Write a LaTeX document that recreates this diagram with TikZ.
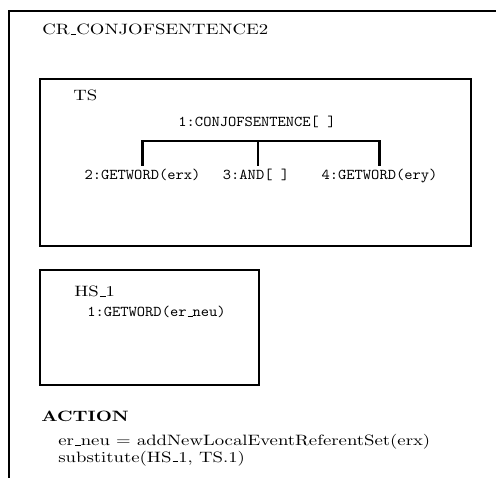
\documentclass[tikz,border=0pt]{standalone}
\usepackage[OT1]{fontenc}
\renewcommand{\rmdefault}{cmr}
\renewcommand{\ttdefault}{cmtt}
\usepackage{graphicx}
\usetikzlibrary{positioning}
\newcommand{\wrm}[1]{\scalebox{1.25}[1]{#1}}
\newcommand{\wtt}[1]{\scalebox{1.05}[1]{\ttfamily #1}}
\tikzset{
  label/.style={anchor=base west, inner sep=0pt},
  termnode/.style={inner sep=1.7pt, anchor=base},
}
\begin{document}
\begin{tikzpicture}[x=0.6667pt, y=-0.6667pt, line width=1.8pt]
	\useasboundingbox (0,0) rectangle (496,478);
	\clip (0,0) rectangle (496,478);
	% rule frame
	\draw (9,11) rectangle (530,520);
	\node[label] (rulename) at (41,35) {\wrm{CR\_CONJOFSENTENCE2}};
	% TS
	\draw (40,79) rectangle (471,246);
	\node[label] (tsname) at (72,101) {\wrm{TS}};
	\node[termnode] (t1) at (257,127) {\wtt{1:CONJOFSENTENCE[ ]}};
	\node[termnode] (t2) at (142.5,180) {\wtt{2:GETWORD(erx)}};
	\node[termnode] (t3) at (256,180) {\wtt{3:AND[ ]}};
	\node[termnode] (t4) at (379.5,180) {\wtt{4:GETWORD(ery)}};
	\coordinate (bar) at (258,141);
	\draw (t2.north) |- (bar) -| (t4.north);
	\draw (bar) -- (t3.north -| bar);
	% HS_1
	\draw (40,270) rectangle (259,385);
	\node[label] (hsname) at (73,297) {\wrm{HS\_1}};
	\node[label] (h1) at (86,317) {\wtt{1:GETWORD(er\_neu)}};
	% action
	\node[label] (action) at (40,422) {\wrm{\bfseries ACTION}};
	\node[label] (act1) at (57,446) {\wrm{er\_neu = addNewLocalEventReferentSet(erx)}};
	\node[label] (act2) at (57,462) {\wrm{substitute(HS\_1, TS.1)}};
\end{tikzpicture}
\end{document}
